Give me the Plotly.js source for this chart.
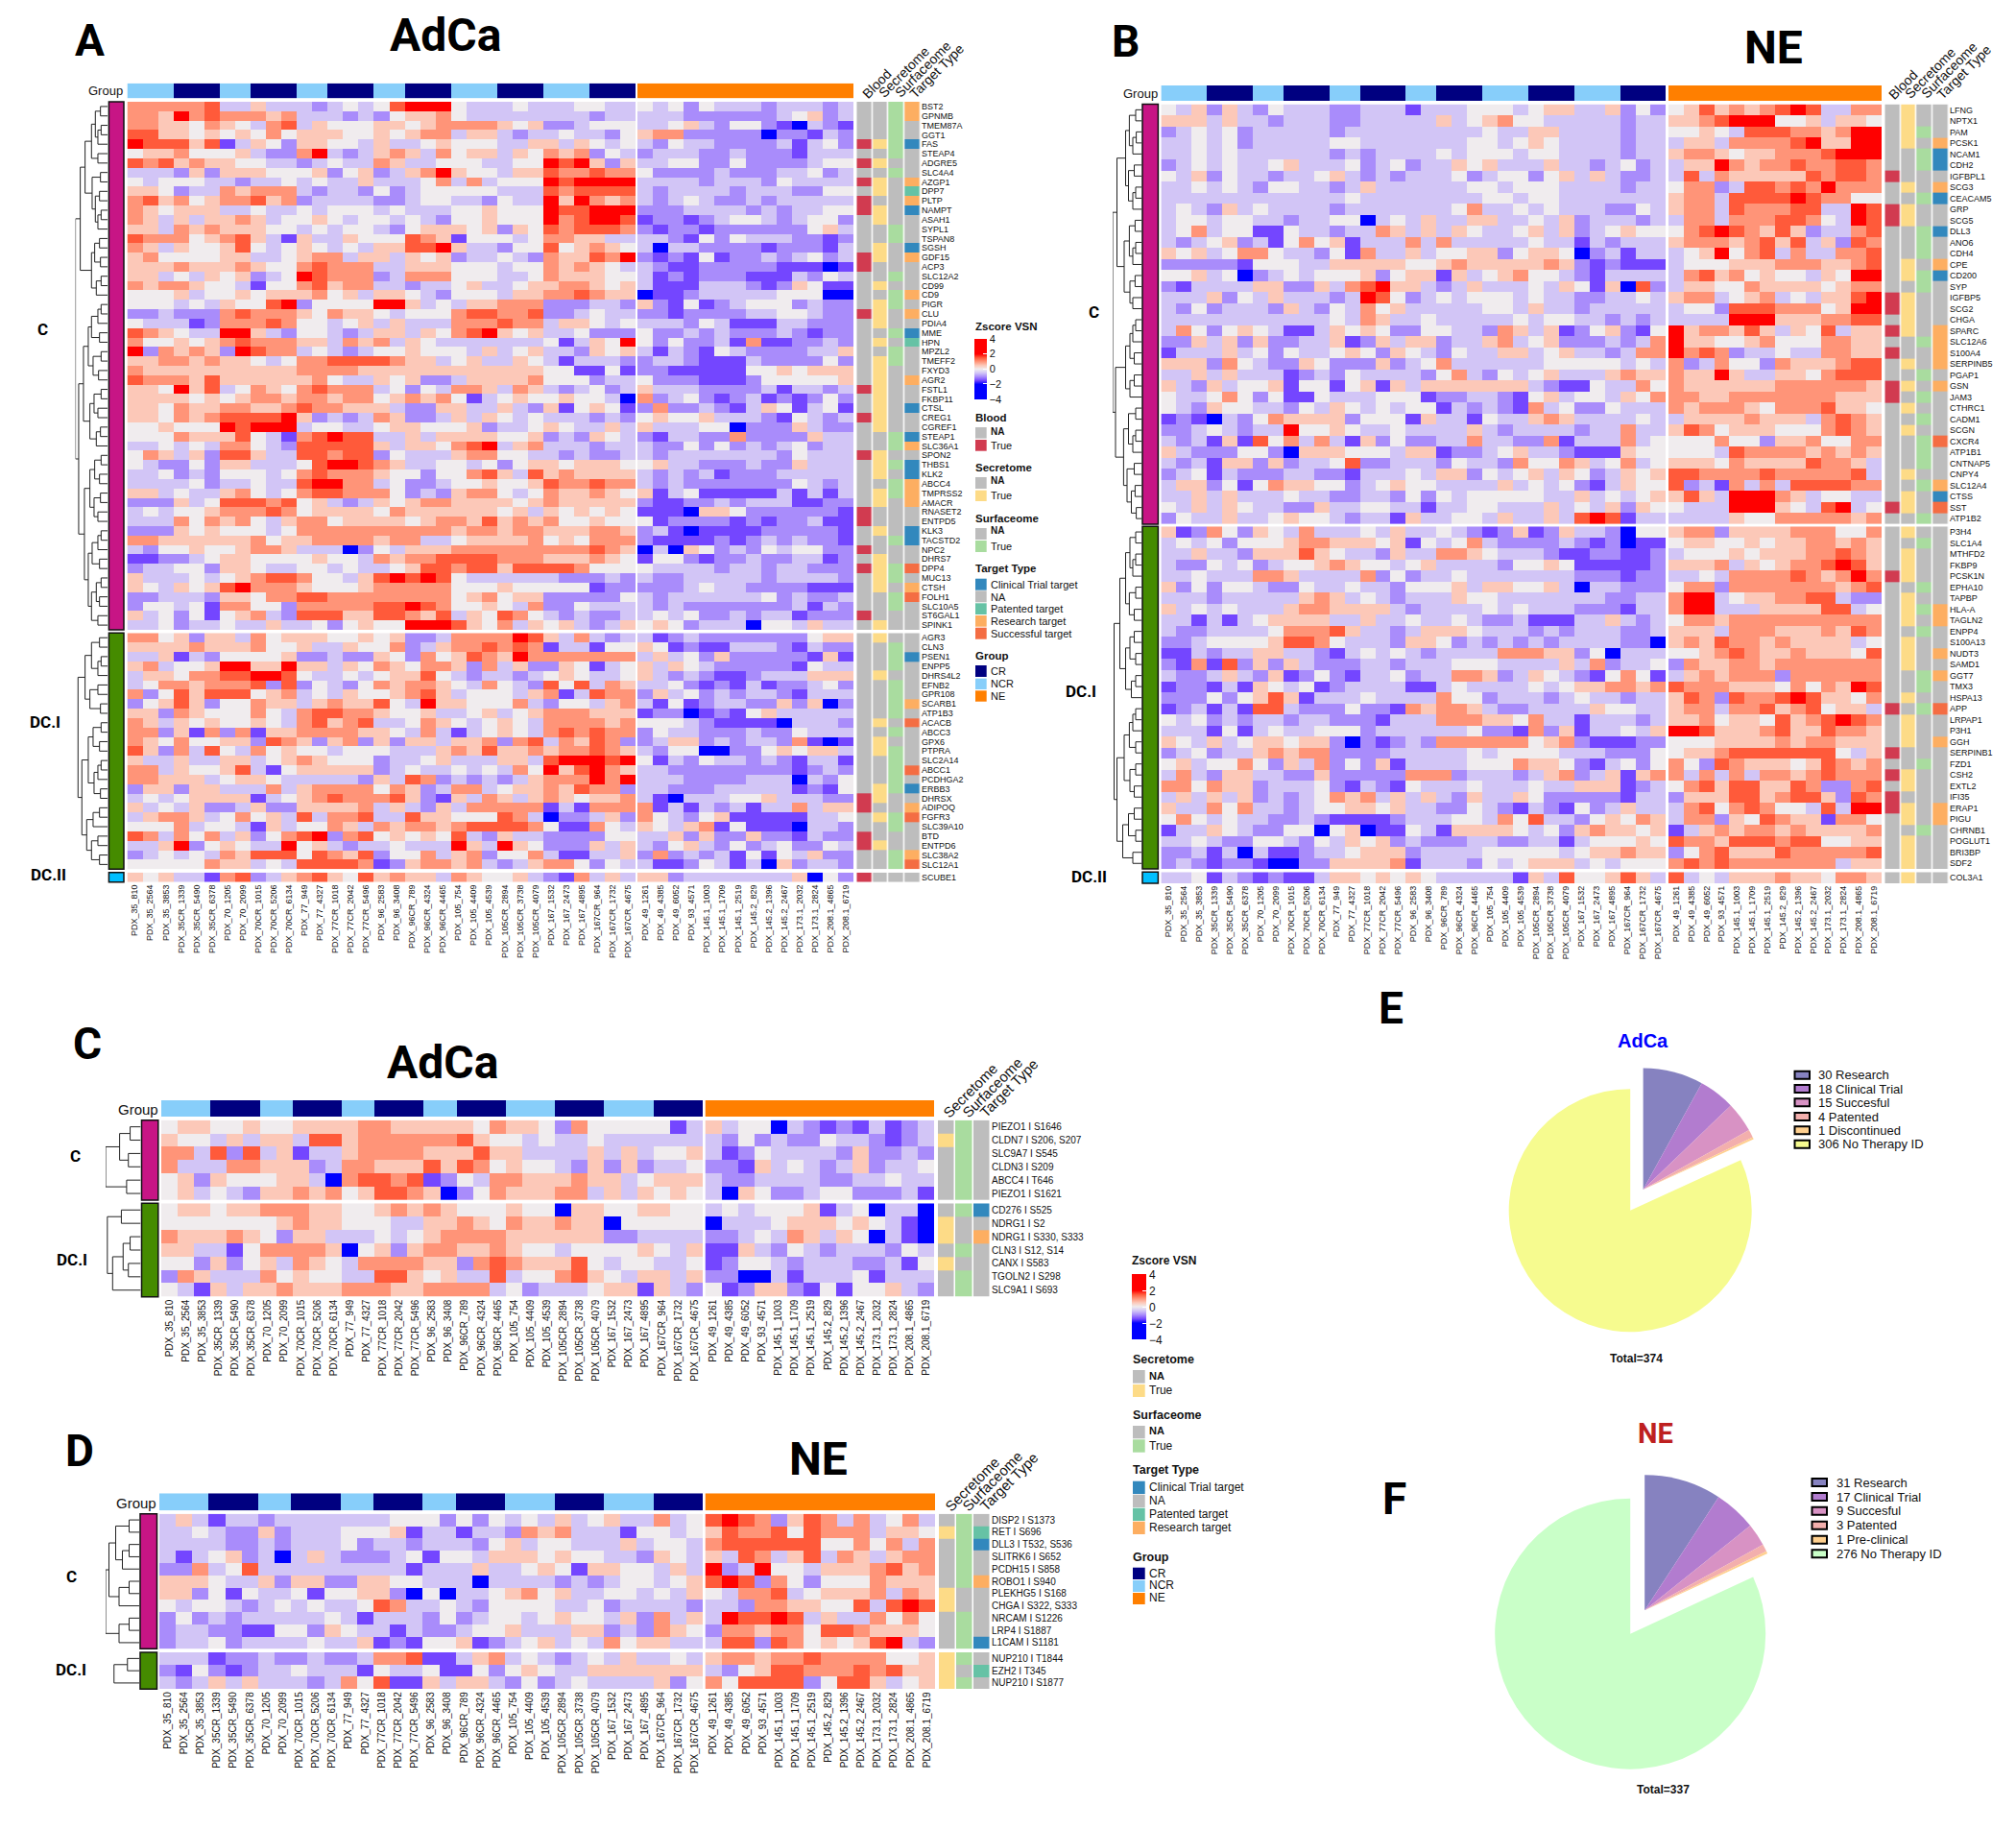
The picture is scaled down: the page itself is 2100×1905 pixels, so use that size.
<!DOCTYPE html>
<html><head><meta charset="utf-8"><script src="https://cdn.plot.ly/plotly-3.0.0.min.js"></script>
<style>html,body{margin:0;padding:0;background:#fff}</style></head><body><div id="g" style="width:2100px;height:1905px"></div>
<script>
const samplesLeft=["PDX_35_810","PDX_35_2564","PDX_35_3853","PDX_35CR_1339","PDX_35CR_5490","PDX_35CR_6378","PDX_70_1205","PDX_70_2099","PDX_70CR_1015","PDX_70CR_5206","PDX_70CR_6134","PDX_77_949","PDX_77_4327","PDX_77CR_1018","PDX_77CR_2042","PDX_77CR_5496","PDX_96_2583","PDX_96_3408","PDX_96CR_789","PDX_96CR_4324","PDX_96CR_4465","PDX_105_754","PDX_105_4409","PDX_105_4539","PDX_105CR_2894","PDX_105CR_3738","PDX_105CR_4079","PDX_167_1532","PDX_167_2473","PDX_167_4895","PDX_167CR_964","PDX_167CR_1732","PDX_167CR_4675"];
const samplesRight=["PDX_49_1261","PDX_49_4385","PDX_49_6052","PDX_93_4571","PDX_145.1_1003","PDX_145.1_1709","PDX_145.1_2519","PDX_145.2_829","PDX_145.2_1396","PDX_145.2_2467","PDX_173.1_2032","PDX_173.1_2824","PDX_208.1_4865","PDX_208.1_6719"];
const groupLeft="NNNCCCNNCCCNNCCCNNCCCNNNCCCNNNCCC";
const groupRight="EEEEEEEEEEEEEE";
const levels=[-2,-1.5,-1,-0.5,0,0.5,1,1.5,2];

const genesA_C=["BST2","GPNMB","TMEM87A","GGT1","FAS","STEAP4","ADGRE5","SLC4A4","AZGP1","DPP7","PLTP","NAMPT","ASAH1","SYPL1","TSPAN8","SGSH","GDF15","ACP3","SLC12A2","CD99","CD9","PIGR","CLU","PDIA4","MME","HPN","MPZL2","TMEFF2","FXYD3","AGR2","FSTL1","FKBP11","CTSL","CREG1","CGREF1","STEAP1","SLC36A1","SPON2","THBS1","KLK2","ABCC4","TMPRSS2","AMACR","RNASET2","ENTPD5","KLK3","TACSTD2","NPC2","DHRS7","DPP4","MUC13","CTSH","FOLH1","SLC10A5","ST6GAL1","SPINK1"];
const annoA_C=["001R","001R","001N","001N","111C","001N","110N","001N","110R","010P","100R","110C","010N","001N","001N","010C","110R","100N","001N","010N","001R","011N","110R","010N","001C","010P","001N","011N","010N","010R","110N","010N","010C","110N","010N","001C","001R","110N","011C","010C","001R","011R","010R","100N","100N","010C","001C","100N","010N","111S","011N","010R","001S","001N","100N","010N"];
const heatA_C=[
"666 667 33 533 32 343 47 888 433 343 334 433|43424333233323",
"665 867 66 656 33 323 24 556 433 333 333 233|33322222234523",
"665 546 54 367 35 444 55 456 666 545 223 444|33453244210321",
"775 545 45 464 55 544 54 566 355 323 343 324|56622222022132",
"877 757 13 542 55 443 53 345 444 335 535 434|32433222231342",
"455 644 45 322 68 323 56 536 455 354 656 243|23332232221333",
"767 565 54 433 23 433 65 334 443 344 878 525|33442242222344",
"333 252 55 544 45 245 23 568 544 355 766 766|42222322233423",
"434 443 32 334 34 335 33 346 363 444 878 888|33332333243333",
"554 233 65 666 32 332 42 344 444 333 767 777|32333323332244",
"675 645 66 756 23 333 22 344 332 433 858 656|32343223233333",
"654 555 33 433 43 444 34 333 445 444 877 888|22233332323344",
"653 535 56 534 45 434 43 432 445 444 867 887|12212344323442",
"553 656 55 544 34 344 32 455 545 254 767 776|21221222222453",
"766 645 67 531 53 354 44 765 144 434 665 533|33214243332212",
"653 544 57 434 54 343 55 778 533 244 745 654|30332222122213",
"564 444 55 334 56 635 53 545 233 432 655 768|21214122323423",
"555 655 56 544 67 666 33 555 444 344 656 543|32112222211101",
"553 435 45 234 87 666 23 666 444 334 655 544|31212221113243",
"656 654 43 144 67 566 33 233 453 345 566 545|31113332125411",
"444 534 45 455 56 453 55 432 444 355 667 655|01123333344400",
"444 343 54 478 24 444 88 534 355 666 222 332|52141234442322",
"223 222 67 666 54 655 43 444 677 667 223 433|22122223344322",
"433 312 66 676 44 345 35 333 666 766 355 434|33324311133222",
"765 433 88 532 44 323 55 354 678 545 334 222|42232322232122",
"644 545 67 666 55 365 63 543 333 333 413 548|42422316112232",
"826 565 28 766 34 323 44 544 435 345 332 545|31321432222335",
"556 656 55 434 66 777 76 553 453 354 313 332|23321113222242",
"655 555 55 555 66 665 55 555 555 555 441 141|22111114454555",
"766 657 55 555 56 433 54 522 355 556 444 233|42221112444445",
"554 857 34 654 67 666 34 243 665 365 323 423|53332222313323",
"555 545 45 665 66 566 45 656 413 454 454 430|62342123121242",
"554 655 66 556 76 655 53 225 533 532 514 541|26223213541341",
"554 656 77 778 52 323 65 223 535 434 333 232|45445333214323",
"445 444 87 888 34 433 45 544 452 334 543 353|53334402225322",
"444 655 57 431 67 877 33 535 555 445 232 543|21332262222533",
"334 343 66 432 77 777 53 554 678 356 333 233|32242423234233",
"465 352 77 533 77 677 24 333 566 443 323 223|32333333324333",
"432 242 55 333 47 887 65 334 434 245 545 554|45332223225333",
"334 232 44 434 67 666 54 424 467 537 565 555|32323122233333",
"333 342 33 433 78 866 34 223 445 445 766 766|32322222224323",
"553 433 56 434 67 766 64 232 566 434 655 654|51341111131313",
"222 534 77 767 45 323 54 566 555 545 655 555|21122323331122",
"343 445 66 676 45 555 46 555 555 453 545 454|11105542222221",
"333 646 56 435 66 455 55 456 657 565 644 544|41222212122311",
"222 545 44 434 66 666 66 666 566 566 555 665|23101111222221",
"665 555 55 645 56 666 56 633 455 556 454 666|21111212323221",
"324 454 45 665 33 302 43 555 666 666 666 765|03054232434422",
"112 234 55 444 45 443 65 667 777 666 555 654|14421223223312",
"233 442 55 433 44 343 34 577 677 577 776 444|43333233233222",
"533 343 45 677 64 435 78 787 433 333 322 232|32233333233332",
"543 545 78 666 54 445 66 666 444 544 444 122|22234332222111",
"223 332 55 466 77 666 66 666 456 455 222 224|32333333423223",
"244 341 66 442 66 666 77 876 445 436 224 333|32322222223132",
"534 241 45 632 77 755 77 657 354 764 323 223|34342232331222",
"334 233 43 353 34 245 44 888 754 635 453 235|45423330443533"
];
const genesA_D1=["AGR3","CLN3","PSEN1","ENPP5","DHRS4L2","EFNB2","GPR108","SCARB1","ATP1B3","ACACB","ABCC3","GPX6","PTPRA","SLC2A14","ABCC1","PCDHGA2","ERBB3","DHRSX","ADIPOQ","FGFR3","SLC39A10","BTD","ENTPD6","SLC38A2","SLC12A1"];
const annoA_D1=["010N","001N","001C","001N","010N","001N","001N","001R","001N","010S","001N","010N","011N","001N","001S","001N","011C","110N","100R","011S","001N","100N","110N","001R","001S"];
const heatA_D1=[
"664 525 53 645 55 445 45 223 666 687 536 323|31232222222455",
"555 565 55 644 53 354 46 235 667 676 133 144|54121133321322",
"335 132 44 445 22 322 54 264 576 586 666 666|35342522222151",
"563 445 88 558 55 354 65 466 526 352 254 134|53543222221433",
"355 466 77 887 43 343 45 574 323 323 454 334|53232112333555",
"346 656 66 727 24 324 65 665 436 432 747 365|33421213122342",
"624 757 77 456 34 354 45 675 344 435 613 766|25342323321333",
"245 752 44 655 35 655 74 385 544 463 244 356|31412332252502",
"552 654 44 643 67 766 54 453 345 345 666 555|12201214533333",
"653 545 44 543 67 567 33 465 434 543 666 656|44432111103332",
"662 516 26 155 66 665 54 363 134 543 676 766|24332223224333",
"654 644 55 276 52 562 52 553 556 267 365 762|23552323326101",
"752 637 43 645 44 344 43 335 657 556 566 765|32440022454553",
"533 533 55 345 65 444 23 345 333 553 788 878|41324332321331",
"663 544 57 314 55 555 23 433 434 364 857 865|33222222221232",
"665 553 45 543 33 332 53 762 323 235 666 868|33322223330324",
"255 255 33 363 56 666 46 523 663 455 657 662|33222333331214",
"343 455 55 134 56 766 67 521 536 535 654 556|31033344533322",
"534 352 23 522 55 556 35 325 366 666 131 666|61313231336355",
"356 653 46 453 73 667 33 755 444 763 022 352|64324511111334",
"444 634 43 153 44 653 65 665 677 776 411 643|54356141110332",
"763 646 35 246 78 267 45 454 732 533 222 244|33525225221322",
"335 824 54 338 45 323 34 333 853 854 222 535|32453242342243",
"234 343 65 777 47 657 24 463 562 446 311 335|26232314143522",
"444 446 55 343 77 776 12 566 563 235 664 243|31124313052332"
];
const genesA_D2=["SCUBE1"];
const annoA_D2=["100N"];
const heatA_D2=["545 331 67 235 67 547 56 553 654 453 216 353|55233333335042"];

const genesB_C=["LFNG","NPTX1","PAM","PCSK1","NCAM1","CDH2","IGFBPL1","SCG3","CEACAM5","GRP","SCG5","DLL3","ANO6","CDH4","CPE","CD200","SYP","IGFBP5","SCG2","CHGA","SPARC","SLC12A6","S100A4","SERPINB5","PGAP1","GSN","JAM3","CTHRC1","CADM1","SCGN","CXCR4","ATP1B1","CNTNAP5","CNPY4","SLC12A4","CTSS","SST","ATP1B2"];
const annoB_C=["010N","010N","011N","010R","001C","001C","100N","010R","001C","110N","110N","001C","001N","001N","010R","011C","001N","110N","110N","010N","110R","001R","100R","010R","001N","110R","101N","010N","001N","010N","001S","001N","001N","010N","001R","010C","110S","001N"];
const heatB_C=[
"435 253 24 333 22 333 13 334 443 455 335 242|45756567873366",
"555 353 32 333 22 333 33 534 564 433 333 233|55678884453554",
"234 342 33 333 23 333 33 333 433 553 333 233|44543777665688",
"334 342 33 333 44 333 33 334 434 543 333 233|35536666785588",
"334 343 33 333 23 233 33 434 443 443 333 233|56654556667888",
"234 343 34 533 34 234 23 354 533 353 323 423|35586566766776",
"435 243 32 334 53 232 33 342 344 245 353 223|37365555576776",
"334 343 24 433 23 533 33 334 434 443 333 233|46623776768666",
"333 333 33 333 34 333 33 333 443 443 333 333|56637777876644",
"343 253 43 333 23 333 33 346 334 343 332 243|56637666773387",
"344 344 33 233 44 034 35 335 533 435 233 323|36636667764387",
"346 344 11 433 23 365 35 354 334 535 234 544|46787657523367",
"323 452 31 464 51 333 63 633 333 433 132 333|56665675735276",
"545 346 64 332 41 633 53 445 524 554 023 133|34584673633667",
"222 221 44 433 55 555 44 565 555 565 212 111|34445556665567",
"445 340 23 434 44 524 55 153 456 443 213 333|36756454435488",
"213 333 55 225 36 785 53 235 333 435 415 072|35544655554566",
"333 524 35 333 23 874 23 434 443 433 223 343|56634563435578",
"324 233 32 532 43 645 33 333 443 533 233 333|34427776664588",
"333 333 33 333 43 653 34 333 334 344 332 323|33338885556677",
"364 245 43 113 54 542 24 433 265 351 245 214|85665753547355",
"225 352 52 233 51 253 55 233 563 452 223 236|85544564446655",
"133 353 42 433 45 425 43 243 355 345 332 366|86762334336655",
"555 264 32 254 22 252 34 633 333 344 444 343|62364426555677",
"335 353 33 123 24 333 32 463 243 453 335 655|65585335546777",
"532 534 45 144 14 515 35 555 555 321 143 364|65555556666665",
"433 464 24 114 33 344 41 223 321 453 443 546|66556666666555",
"432 544 33 243 54 343 44 132 321 634 224 333|65666546667554",
"121 032 46 555 52 444 15 331 433 565 333 343|35555655536765",
"223 432 33 844 54 334 33 335 323 333 233 633|57645554446765",
"323 151 74 636 31 524 22 336 332 261 333 634|44464425564466",
"532 224 42 055 54 443 55 122 345 332 111 544|44437666656565",
"323 155 25 233 47 223 33 243 326 446 534 634|55546555576653",
"234 132 22 332 21 333 43 552 434 535 423 545|77666676666673",
"355 241 46 554 42 345 44 333 353 434 213 544|72316363777766",
"335 353 33 433 22 332 42 434 444 433 534 345|57538886534433",
"435 354 33 225 33 443 31 334 433 353 435 254|43338885437834",
"243 353 34 544 32 331 53 344 353 353 787 133|33335446666656"
];
const genesB_D1=["P3H4","SLC1A4","MTHFD2","FKBP9","PCSK1N","EPHA10","TAPBP","HLA-A","TAGLN2","ENPP4","S100A13","NUDT3","SAMD1","GGT7","TMX3","HSPA13","APP","LRPAP1","P3H1","GGH","SERPINB1","FZD1","CSH2","EXTL2","IFI35","ERAP1","PIGU","CHRNB1","POGLUT1","BRI3BP","SDF2"];
const annoB_D1=["010N","001N","010N","010N","110N","001N","010N","011R","010R","001N","010N","010R","010N","001R","001N","010N","101S","010N","010N","010R","100N","001N","110N","010N","100N","110R","010R","001N","010N","010N","010N"];
const heatB_D1=[
"512 642 54 363 33 435 33 432 125 125 332 044|56625555666446",
"343 424 44 566 55 545 14 346 322 223 212 011|45544545566565",
"335 332 55 575 43 325 33 665 433 321 122 112|34445455566765",
"322 434 23 445 65 443 45 333 324 454 111 112|55563545667875",
"334 333 66 533 33 624 23 343 333 333 222 122|33436666765686",
"524 244 32 243 34 332 44 453 554 453 033 222|46626666666567",
"333 233 33 356 53 432 33 354 433 333 332 233|68834556677322",
"534 343 33 566 55 553 23 333 434 333 222 133|68833355557734",
"331 313 45 555 33 533 43 343 223 111 335 323|46656666666666",
"322 333 34 666 75 332 35 554 333 232 333 223|55536665556576",
"223 444 45 776 43 332 55 423 232 323 333 220|56576656555534",
"113 233 55 332 13 434 32 333 366 655 240 333|44567655655547",
"216 172 52 532 22 332 33 344 433 335 362 334|26556656666666",
"322 353 25 124 21 334 23 366 523 543 214 641|35656662666666",
"122 131 54 341 23 333 11 343 333 434 556 656|76665554646587",
"222 424 57 513 33 433 33 644 233 323 433 233|57627667875546",
"123 131 77 322 24 221 65 665 322 333 354 433|56636675674553",
"434 232 33 233 22 213 33 666 554 633 133 323|55645547567876",
"333 141 34 334 44 233 33 334 221 625 133 435|88755567557665",
"543 534 55 455 20 212 32 666 666 456 211 122|44455556566555",
"234 233 56 566 22 223 33 334 344 443 332 224|45567777777435",
"453 446 42 536 24 251 33 334 446 554 213 424|64276555457656",
"363 255 33 225 22 222 66 623 332 356 235 156|63636366567666",
"664 655 23 334 21 321 43 334 333 433 555 123|46757755762267",
"353 535 23 234 65 635 35 325 335 422 222 133|25557756775276",
"533 646 33 234 45 545 33 224 321 321 423 533|36746764437388",
"464 343 32 232 11 112 33 344 364 733 245 465|36625476551664",
"133 543 22 440 45 011 43 155 554 342 565 545|13565665655556",
"334 322 44 324 35 452 32 223 322 331 344 454|76657776774455",
"223 130 31 123 34 555 23 333 444 443 455 655|24675557666667",
"232 122 10 022 55 556 13 332 434 555 343 444|67676666666355"
];
const genesB_D2=["COL3A1"];
const annoB_D2=["010N"];
const heatB_D2=["334 132 12 113 55 454 54 333 331 537 445 753|73435556554665"];

const genesC_C=["PIEZO1 I S1646","CLDN7 I S206, S207","SLC9A7 I S545","CLDN3 I S209","ABCC4 I T646","PIEZO1 I S1621"];
const annoC_C=["x01N","x11N","x01N","x01N","x01N","x01N"];
const heatC_C=[
"455 445 44 555 56 655 55 546 554 264 444 413|53440321213123",
"544 353 55 377 56 666 66 754 434 334 333 333|32423224332123",
"663 727 35 133 56 666 55 575 533 335 353 445|31243333252232",
"633 366 55 523 66 555 75 764 544 325 252 334|22153432352334",
"452 544 45 530 67 767 12 436 655 565 534 555|32233332233433",
"453 432 55 656 45 776 50 246 555 663 535 454|30542234422231"
];
const genesC_D1=["CD276 I S525","NDRG1 I S2","NDRG1 I S330, S333","CLN3 I S12, S14","CANX I S583","TGOLN2 I S298","SLC9A1 I S693"];
const annoC_D1=["x01C","x10N","x10R","x01N","x10N","x01N","x01N"];
const heatC_D1=[
"455 455 66 655 44 565 65 444 544 055 445 544|34344451340330",
"444 444 45 655 44 433 55 654 655 655 044 444|03334555454310",
"655 565 42 553 33 434 56 666 555 555 223 333|22343653540310",
"553 314 66 665 04 525 66 556 544 344 445 435|11532432333243",
"442 524 53 654 36 666 55 267 655 574 344 334|12443233322314",
"265 333 64 544 33 775 45 337 344 675 435 535|22003133341333",
"431 535 56 555 66 655 66 663 423 334 551 532|41255214144532"
];
const genesD_C=["DISP2 I S1373","RET I S696","DLL3 I T532, S536","SLITRK6 I S652","PCDH15 I S858","ROBO1 I S940","PLEKHG5 I S168","CHGA I S322, S333","NRCAM I S1226","LRP4 I S1887","L1CAM I S1181"];
const annoD_C=["x01N","x11P","x01C","x01N","x01N","x01R","x10N","x10N","x01N","x01N","x01C"];
const heatD_C=[
"353 133 23 333 33 344 42 424 343 534 533 634|78762576363463",
"334 322 52 333 44 451 33 133 265 633 314 434|57667476663554",
"333 322 32 333 42 332 33 324 534 433 353 443|67777774464636",
"313 452 30 353 22 234 14 435 554 544 332 543|53763573653566",
"226 347 33 333 33 331 33 353 345 415 544 353|82384435556756",
"555 433 52 552 25 544 33 303 333 232 344 345|78726424446555",
"552 414 33 414 45 520 40 334 564 533 443 435|43667345556365",
"434 432 34 343 34 763 34 324 444 334 233 332|33266554473787",
"242 323 33 334 31 333 24 234 434 544 352 635|38778735336464",
"233 221 14 425 43 313 22 344 533 355 232 654|26656647765554",
"233 423 33 343 35 121 44 512 345 343 645 533|37727645457832"
];
const genesD_D1=["NUP210 I T1844","EZH2 I T345","NUP210 I S1877"];
const annoD_D1=["x11N","x10P","x11N"];
const heatD_D1=[
"333 122 32 232 23 667 11 356 343 234 353 343|56656676666445",
"214 212 33 433 31 433 41 142 454 335 555 555|32457766676755",
"323 535 33 323 64 711 53 553 242 343 333 524|64777724775345"
];

const pieE_labels=["30 Research","18 Clinical Trial","15 Succesful","4 Patented","1 Discontinued","306 No Therapy ID"];
const pieE_values=[30,18,15,4,1,306];
const pieF_labels=["31 Research","17 Clinical Trial","9 Succesful","3 Patented","1 Pre-clinical","276 No Therapy ID"];
const pieF_values=[31,17,9,3,1,276];

const P=h=>[h,0,0], T=(h,k)=>[h,[k,0,0],0];
const treeA_C=[1,[.85,[.7,[.5,[.38,P(.22),T(.3,.2)],P(.3)],[.48,P(.22),[.38,P(.25),T(.3,.2)]]],[.5,[.4,P(.25),P(.22)],T(.35,.2)]],[.9,[.75,[.6,[.5,T(.3,.2),P(.25)],[.45,P(.2),P(.28)]],[.55,[.42,P(.2),P(.3)],T(.35,.22)]],[.72,[.55,[.4,P(.2),P(.25)],[.42,P(.22),P(.3)]],[.6,[.48,T(.3,.2),P(.25)],[.5,[.35,P(.2),P(.25)],P(.3)]]]]];
const treeA_D1=[.92,[.7,[.5,P(.25),T(.3,.2)],[.55,P(.3),P(.22)]],[.8,[.6,[.45,P(.2),P(.25)],[.42,T(.3,.2),P(.22)]],[.65,T(.45,.25),[.5,P(.3),P(.25)]]]];
const treeB_C=[1,[.85,[.55,[.42,P(.2),T(.3,.18)],[.45,P(.25),T(.3,.2)]],[.6,[.42,P(.22),T(.3,.2)],[.4,P(.22),P(.3)]]],[.9,[.55,[.4,T(.3,.2),P(.25)],T(.4,.25)],[.62,[.45,P(.2),T(.3,.2)],[.5,P(.25),[.35,P(.22),P(.18)]]]]];
const treeB_D1=[.95,[.75,[.55,[.4,P(.2),T(.3,.2)],[.42,P(.2),P(.25)]],[.55,[.4,P(.25),P(.2)],T(.35,.2)]],[.85,[.6,[.42,T(.3,.2),P(.2)],[.4,P(.2),P(.25)]],[.65,[.45,P(.25),P(.2)],P(.3)]]];
const treeC_C=[1,[.6,P(.3),P(.35)],P(.4)];
const treeC_D1=[.95,P(.55),[.8,[.5,P(.3),P(.35)],0]];
const treeD_C=[1,[.9,[.7,P(.3),T(.5,.3)],T(.6,.3)],T(.6,.3)];
const treeD_D1=[.75,P(.35),0];

const W=2100,H=1905,FONT='"Liberation Sans",Arial,sans-serif',HEAD='Roboto,sans-serif';
const palette=["#BDBDBD","#D13B50","#FDDB87","#A9DC9F","#3288BD","#66C2A5","#FDAE61","#F46D43","#000080","#87CEFA","#FF7F00"];
const codeOf={N:0,C:4,P:5,R:6,S:7};
const discrete=[];palette.forEach((c,i)=>{discrete.push([i/palette.length,c],[(i+1)/palette.length,c]);});
const heatScale=[[0,"#0000ff"],[.25,"#0000ff"],[.3125,"#7446ff"],[.375,"#a98cfb"],[.4375,"#d2c5f6"],[.5,"#f0ecee"],[.5625,"#fcc8b8"],[.625,"#ff9478"],[.6875,"#ff5a3a"],[.75,"#ff0000"],[1,"#ff0000"]];
const layout={width:W,height:H,margin:{l:0,r:0,t:0,b:0,pad:0},paper_bgcolor:"#fff",plot_bgcolor:"#fff",showlegend:false,shapes:[],annotations:[],font:{family:FONT,color:"#111"}};
const traces=[];let nx=0,ny=0;
const blank={showgrid:false,zeroline:false,showline:false,showticklabels:false,ticks:"",fixedrange:true};
function newX(a,b,range){nx++;const id=nx==1?"":nx;layout["xaxis"+id]=Object.assign({},blank,{domain:[a/W,b/W],range});return{id:"x"+id,ax:layout["xaxis"+id]};}
function newY(t,b,range){ny++;const id=ny==1?"":ny;layout["yaxis"+id]=Object.assign({},blank,{domain:[1-b/H,1-t/H],range});return{id:"y"+id,ax:layout["yaxis"+id]};}
function txt(x,y,text,o={}){layout.annotations.push({xref:"paper",yref:"paper",x:x/W,y:1-y/H,text:o.bold?"<b>"+text+"</b>":text,showarrow:false,xanchor:o.anchor||"left",yanchor:o.v||"middle",textangle:o.angle||0,font:{family:o.family||FONT,size:o.size||11,color:o.color||"#111"},borderpad:0,borderwidth:0});}
function rect(x0,y0,x1,y1,fill,line,lw){layout.shapes.push({type:"rect",xref:"paper",yref:"paper",x0:x0/W,x1:x1/W,y0:1-y0/H,y1:1-y1/H,fillcolor:fill,line:{color:line||fill,width:line?(lw||1):0},layer:"above"});}
function decode(rows,side){return rows.map(r=>{const p=r.replace(/ /g,"").split("|");const s=side==0?p[0].padEnd(33,"4").slice(0,33):(p[1]||"").padEnd(14,"3").slice(0,14);return s.split("").map(c=>levels[+c]);});}
function dendro(tree,xa,ya){const xs=[],ys=[];let k=0;function walk(n){if(!Array.isArray(n))return{y:k++,h:0};const kids=n.slice(1).map(walk);const yy=kids.map(c=>c.y);kids.forEach(c=>{xs.push(c.h,n[0],null);ys.push(c.y,c.y,null);});xs.push(n[0],n[0],null);ys.push(Math.min(...yy),Math.max(...yy),null);return{y:(Math.min(...yy)+Math.max(...yy))/2,h:n[0]};}walk(tree);traces.push({type:"scatter",mode:"lines",x:xs,y:ys,xaxis:xa,yaxis:ya,line:{color:"#222",width:1},hoverinfo:"skip"});}
function panel(c){
 const xL=newX(c.left[0],c.left[1],[-.5,32.5]),xR=newX(c.right[0],c.right[1],[-.5,13.5]),xA=newX(c.anno[0],c.anno[1],[c.first-.5,3.5]),xD=newX(c.dend[0],c.dend[1],[1,0]);
 const yG=newY(c.gbar[0],c.gbar[1],[-.5,.5]);
 traces.push({type:"heatmap",z:[groupLeft.split("").map(g=>g=="C"?8:9)],xaxis:xL.id,yaxis:yG.id,colorscale:discrete,zmin:-.5,zmax:10.5,showscale:false,hoverinfo:"skip"});
 traces.push({type:"heatmap",z:[groupRight.split("").map(()=>10)],xaxis:xR.id,yaxis:yG.id,colorscale:discrete,zmin:-.5,zmax:10.5,showscale:false,hoverinfo:"skip"});
 let last=null;
 c.blocks.forEach(b=>{
  const n=b.genes.length,yB=newY(b.t,b.b,[n-.5,-.5]);last=yB;
  Object.assign(yB.ax,{anchor:xA.id,side:"right",showticklabels:true,tickmode:"array",tickvals:b.genes.map((_,i)=>i),ticktext:b.genes,tickfont:{size:c.geneSize,family:FONT,color:"#111"}});
  traces.push({type:"heatmap",z:decode(b.rows,0),xaxis:xL.id,yaxis:yB.id,coloraxis:c.cax,hoverinfo:"skip"});
  traces.push({type:"heatmap",z:decode(b.rows,1),xaxis:xR.id,yaxis:yB.id,coloraxis:c.cax,hoverinfo:"skip"});
  const cols=[];for(let i=c.first;i<=3;i++)cols.push(i);
  traces.push({type:"heatmap",x:cols,z:b.anno.map(a=>cols.map(i=>i==3?codeOf[a[3]]:(a[i]=="1"?i+1:0))),xaxis:xA.id,yaxis:yB.id,colorscale:discrete,zmin:-.5,zmax:10.5,showscale:false,xgap:c.gap,hoverinfo:"skip"});
  if(b.tree)dendro(b.tree,xD.id,yB.id);
  rect(c.split[0],b.t,c.split[1],b.b,b.color,"#111",1.5);
 });
 [xL,xR].forEach((x,i)=>{const s=i?samplesRight:samplesLeft;Object.assign(x.ax,{anchor:last.id,showticklabels:true,tickmode:"array",tickvals:s.map((_,j)=>j),ticktext:s,tickangle:-90,side:"bottom",tickfont:{size:c.sampleSize,family:FONT,color:"#111"}});});
 xA.ax.anchor=last.id;xD.ax.anchor=last.id;yG.ax.anchor=xL.id;
}
panel({left:[132.5,662],right:[664,889.3],anno:[892.3,959],first:0,gap:1.5,dend:[78.6,112],gbar:[86.7,102.3],split:[113.4,129],cax:"coloraxis",geneSize:9,sampleSize:9,
 blocks:[{t:106,b:656,genes:genesA_C,anno:annoA_C,rows:heatA_C,tree:treeA_C,color:"#C71585"},{t:659.3,b:905.3,genes:genesA_D1,anno:annoA_D1,rows:heatA_D1,tree:treeA_D1,color:"#458B00"},{t:908.7,b:918.7,genes:genesA_D2,anno:annoA_D2,rows:heatA_D2,color:"#00BFFF"}]});
panel({left:[1209.4,1735],right:[1738,1960],anno:[1963.3,2030],first:0,gap:1.5,dend:[1159,1189],gbar:[89,105],split:[1190,1206.4],cax:"coloraxis",geneSize:9,sampleSize:9,
 blocks:[{t:108.6,b:545.9,genes:genesB_C,anno:annoB_C,rows:heatB_C,tree:treeB_C,color:"#C71585"},{t:548.3,b:905,genes:genesB_D1,anno:annoB_D1,rows:heatB_D1,tree:treeB_D1,color:"#458B00"},{t:908.3,b:920,genes:genesB_D2,anno:annoB_D2,rows:heatB_D2,color:"#00BFFF"}]});
panel({left:[168,732],right:[734.5,973],anno:[977,1032],first:1,gap:1.5,dend:[110,146.5],gbar:[1146,1163.3],split:[147.5,164.8],cax:"coloraxis2",geneSize:10,sampleSize:10,
 blocks:[{t:1166.7,b:1250,genes:genesC_C,anno:annoC_C,rows:heatC_C,tree:treeC_C,color:"#C71585"},{t:1253.3,b:1350.7,genes:genesC_D1,anno:annoC_D1,rows:heatC_D1,tree:treeC_D1,color:"#458B00"}]});
panel({left:[166,732],right:[734.5,974],anno:[978,1032],first:1,gap:1.5,dend:[110,145],gbar:[1555.3,1573.3],split:[146,163.5],cax:"coloraxis2",geneSize:10,sampleSize:10,
 blocks:[{t:1576.7,b:1717.3,genes:genesD_C,anno:annoD_C,rows:heatD_C,tree:treeD_C,color:"#C71585"},{t:1721,b:1759.3,genes:genesD_D1,anno:annoD_D1,rows:heatD_D1,tree:treeD_D1,color:"#458B00"}]});

function cbar(x,top,bottom,thick,size){return{thickness:thick,thicknessmode:"pixels",len:bottom-top,lenmode:"pixels",x:x/W,xanchor:"left",xpad:0,y:1-bottom/H,yanchor:"bottom",ypad:0,outlinewidth:0,tickmode:"array",tickvals:[-4,-2,0,2,4],ticktext:["−4","−2","0","2","4"],ticks:"inside",ticklen:4,tickcolor:"#fff",tickwidth:1,tickfont:{size,family:FONT,color:"#111"}};}
layout.coloraxis={cmin:-4,cmax:4,colorscale:heatScale,colorbar:cbar(1015,352.7,415.7,13,11)};
layout.coloraxis2={cmin:-4,cmax:4,colorscale:heatScale,colorbar:cbar(1179,1327,1395.3,15,12)};

[["A",93,41.5],["B",1172,43],["C",91,1086.5],["D",83,1511],["E",1449,1050],["F",1452,1561]].forEach(a=>txt(a[1],a[2],a[0],{size:46,bold:true,anchor:"center",family:HEAD,color:"#000"}));
[["AdCa",464,37],["NE",1847,49],["AdCa",461,1106.5],["NE",852,1519]].forEach(a=>txt(a[1],a[2],a[0],{size:48,bold:true,anchor:"center",family:HEAD,color:"#000"}));
[[128,95,13],[1206,97.6,13],[165,1155,15],[163,1565,15]].forEach(a=>txt(a[0],a[1],"Group",{size:a[2],anchor:"right"}));
[["C",44,343],["DC.I",47,752],["DC.II",50,911],["C",1139,325],["DC.I",1126,720],["DC.II",1134,913],["C",78,1204],["DC.I",75,1312],["C",74,1642],["DC.I",74,1739]].forEach(a=>txt(a[1],a[2],a[0],{size:17,bold:true,anchor:"center",family:HEAD,color:"#000"}));
function coltitles(list,bottom,size){list.forEach(a=>txt(a[1],bottom,a[0],{size,angle:-45,v:"bottom"}));}
coltitles([["Blood",895],["Secretome",912],["Surfaceome",929],["Target Type",944]],105,14);
coltitles([["Blood",1964],["Secretome",1981],["Surfaceome",1998],["Target Type",2014]],106,14);
coltitles([["Secretome",979],["Surfaceome",999],["Target Type",1017]],1167,15);
coltitles([["Secretome",981],["Surfaceome",999],["Target Type",1017]],1577,15);

const GR=palette[0];
function legend(x,sw,tx,size,list){list.forEach(l=>{if(l.title)txt(x,l.y,l.title,{size:size+.5,bold:true});else{rect(x+sw[0],l.t,x+sw[1],l.b,l.c);txt(tx,l.ty,l.text,{size:l.small?size-1:size,bold:!!l.small});}});}
legend(1016,[0,11.7],1032,11,[{title:"Blood",y:434.7},{t:445,b:456.7,c:GR,text:"NA",ty:449.7,small:1},{t:458,b:469.7,c:palette[1],text:"True",ty:464},
 {title:"Secretome",y:487},{t:497,b:509,c:GR,text:"NA",ty:500,small:1},{t:510.7,b:522,c:palette[2],text:"True",ty:516},
 {title:"Surfaceome",y:539.7},{t:550,b:562,c:GR,text:"NA",ty:552,small:1},{t:563,b:575,c:palette[3],text:"True",ty:569},
 {title:"Target Type",y:592},{t:602.7,b:614.7,c:palette[4],text:"Clinical Trial target",ty:609},{t:615.3,b:627.3,c:GR,text:"NA",ty:621.7},{t:628.3,b:640,c:palette[5],text:"Patented target",ty:634.3},{t:641,b:652.7,c:palette[6],text:"Research target",ty:647},{t:653.7,b:665.7,c:palette[7],text:"Successful target",ty:659.7},
 {title:"Group",y:683},{t:693,b:705,c:palette[8],text:"CR",ty:699},{t:706.7,b:718,c:palette[9],text:"NCR",ty:712},{t:719.3,b:730.7,c:palette[10],text:"NE",ty:725}]);
txt(1016,340,"Zscore VSN",{size:11.5,bold:true});
legend(1180,[0,12.7],1197,12,[{title:"Secretome",y:1416},{t:1427,b:1440.7,c:GR,text:"NA",ty:1433.3,small:1},{t:1442,b:1455,c:palette[2],text:"True",ty:1448},
 {title:"Surfaceome",y:1473.7},{t:1485,b:1498.3,c:GR,text:"NA",ty:1489.7,small:1},{t:1499.3,b:1512.7,c:palette[3],text:"True",ty:1505.7},
 {title:"Target Type",y:1531.3},{t:1542.7,b:1556,c:palette[4],text:"Clinical Trial target",ty:1549.3},{t:1556.7,b:1570,c:GR,text:"NA",ty:1563.3},{t:1570.7,b:1584,c:palette[5],text:"Patented target",ty:1577.3},{t:1584.7,b:1598,c:palette[6],text:"Research target",ty:1591.3},
 {title:"Group",y:1622},{t:1632.7,b:1645,c:palette[8],text:"CR",ty:1638.7},{t:1646,b:1658,c:palette[9],text:"NCR",ty:1651},{t:1659,b:1671,c:palette[10],text:"NE",ty:1664}]);
txt(1179,1313,"Zscore VSN",{size:12,bold:true});

function pie(values,labels,cx,cy,r,ex,ey,colors,lx,lt,ly){
 const clear="rgba(0,0,0,0)",n=values.length;
 const dom=(a,b)=>({x:[(a-r)/W,(a+r)/W],y:[1-(b+r)/H,1-(b-r)/H]});
 const common={type:"pie",values,labels,sort:false,direction:"clockwise",rotation:0,textinfo:"none",hoverinfo:"skip",showlegend:false};
 traces.push(Object.assign({},common,{domain:dom(cx,cy),marker:{colors:colors.map((c,i)=>i==n-1?c:clear),line:{width:0}}}));
 traces.push(Object.assign({},common,{domain:dom(ex,ey),marker:{colors:colors.map((c,i)=>i==n-1?clear:c),line:{width:0}}}));
 labels.forEach((l,i)=>{rect(lx,ly[i]-4,lx+15.5,ly[i]+4,colors[i],"#000",2);txt(lt,ly[i],l,{size:13});});
}
const sliceColors=["#8682C0","#B27CCF","#D892C4","#F3AFAD","#FFD08F"];
pie(pieE_values,pieE_labels,1698.2,1260.7,126.5,1711.6,1239,[...sliceColors,"#F6FB8F"],1869.5,1894,[1119.7,1134,1148.3,1163,1177.3,1191.7]);
pie(pieF_values,pieF_labels,1698.2,1701.7,141,1713.2,1677.3,[...sliceColors,"#C9FFC8"],1887.5,1912.5,[1544,1559,1573.7,1588.7,1603.7,1618.3]);
txt(1711.4,1084,"AdCa",{size:20,bold:true,anchor:"center",color:"#0000FF"});
txt(1724,1492.7,"NE",{size:29,bold:true,anchor:"center",family:HEAD,color:"#BE2020"});
txt(1704,1415,"Total=374",{size:12,bold:true,anchor:"center"});
txt(1732,1864,"Total=337",{size:12,bold:true,anchor:"center"});

Plotly.newPlot("g",traces,layout,{displayModeBar:false,staticPlot:true});
</script></body></html>
